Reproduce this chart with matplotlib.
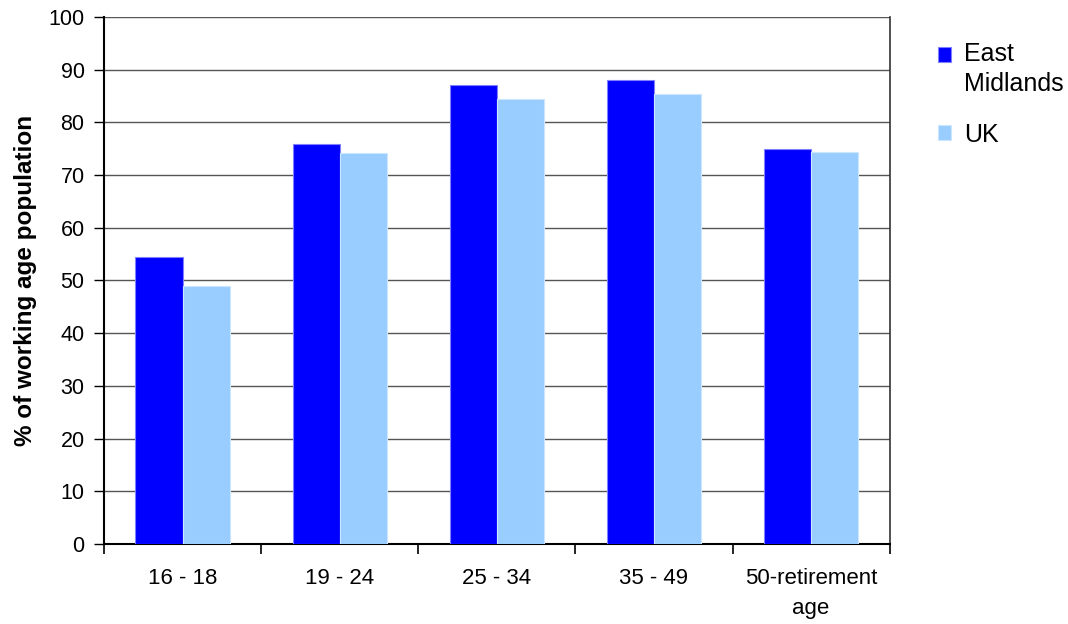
import numpy as np
import matplotlib.pyplot as plt
from matplotlib.patches import Rectangle
from matplotlib.legend_handler import HandlerPatch

plt.rcParams['font.family'] = ['Liberation Sans', 'DejaVu Sans']

# 数据
age_groups = ['16 - 18', '19 - 24', '25 - 34', '35 - 49', '50-retirement\nage']
east_midlands = [54.5, 75.9, 87.1, 88.1, 75.0]
uk = [48.9, 74.2, 84.4, 85.4, 74.3]

fig = plt.figure(figsize=(10.68, 6.24), dpi=100)
ax = fig.add_axes([0.0974, 0.1282, 0.7356, 0.8446])

x = np.arange(len(age_groups))
w = 0.3
b1 = ax.bar(x - w/2, east_midlands, w, color='#0000FF', edgecolor='#8080FF',
            linewidth=0.8, label='East\nMidlands', zorder=3)
b2 = ax.bar(x + w/2, uk, w, color='#99CCFF', edgecolor='#CCE6FF',
            linewidth=0.8, label='UK', zorder=3)

ax.set_xlim(-0.5, len(age_groups) - 0.5)
ax.set_ylim(0, 100)
ax.set_yticks(np.arange(0, 101, 10))
ax.yaxis.grid(True, color='#555555', linewidth=1.0, zorder=0)

# 类别间刻度
ax.set_xticks(np.arange(-0.5, len(age_groups)), minor=False)
ax.set_xticklabels([])
ax.set_xticks(x, minor=True)
ax.set_xticklabels(age_groups, minor=True, fontsize=16, linespacing=1.6)
ax.tick_params(axis='x', which='minor', length=0, pad=17)
ax.tick_params(axis='x', which='major', length=7, width=1.2, direction='out')
ax.tick_params(axis='y', length=7, width=1.0, labelsize=15.5, pad=7)

for s in ['left', 'bottom']:
    ax.spines[s].set_linewidth(1.5)
    ax.spines[s].set_color('black')
ax.spines['top'].set_visible(False)
ax.spines['right'].set_color('#333333')
ax.spines['right'].set_linewidth(1.2)

ax.set_ylabel('% of working age population', fontsize=17.5, fontweight='bold',
              labelpad=8)


# 图例方块：多行标签的方块对齐第一行
def square(legend, orig_handle, xdescent, ydescent, width, height, fontsize):
    dy = 0.6 * fontsize if orig_handle is b1.patches[0] else 0
    return Rectangle((-xdescent, -ydescent + dy), width, height)


leg = fig.legend([b1.patches[0], b2.patches[0]], ['East\nMidlands', 'UK'],
                 loc='upper left', bbox_to_anchor=(0.878, 0.932),
                 frameon=False, fontsize=18, handlelength=0.55,
                 handleheight=0.55, handletextpad=0.5, labelspacing=1.08,
                 borderpad=0, borderaxespad=0,
                 handler_map={Rectangle: HandlerPatch(patch_func=square)})
for t in leg.get_texts():
    t.set_linespacing(1.27)

plt.savefig('out.png', dpi=100)
